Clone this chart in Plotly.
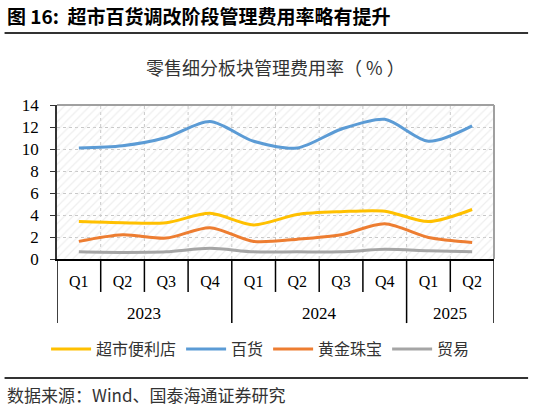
import plotly.graph_objects as go

# данные
years = ["2023"] * 4 + ["2024"] * 4 + ["2025"] * 2
quarters = ["Q1", "Q2", "Q3", "Q4", "Q1", "Q2", "Q3", "Q4", "Q1", "Q2"]

supermarket = [3.4, 3.3, 3.3, 4.15, 3.1, 4.05, 4.3, 4.35, 3.4, 4.5]
department = [10.1, 10.3, 11.05, 12.5, 10.7, 10.1, 11.8, 12.7, 10.7, 12.1]
jewelry = [1.6, 2.2, 1.9, 2.85, 1.6, 1.8, 2.2, 3.2, 1.95, 1.5]
trade = [0.66, 0.6, 0.65, 0.97, 0.65, 0.65, 0.65, 0.88, 0.75, 0.65]

y_max = 14
y_ticks = [0, 2, 4, 6, 8, 10, 12, 14]

idx = list(range(len(quarters)))

fig = go.Figure()

# фон со штриховкой
fig.add_trace(go.Bar(x=idx, y=[y_max] * len(quarters), width=1, showlegend=False, hoverinfo='skip',
                     marker=dict(color='rgba(0,0,0,0)', line=dict(width=0),
                                 pattern=dict(shape='/', fgcolor='#dedede', bgcolor='rgba(0,0,0,0)',
                                              size=6, solidity=0.2))))

series = [("超市便利店", supermarket, '#FFC000'),
          ("百货", department, '#5B9BD5'),
          ("黄金珠宝", jewelry, '#ED7D31'),
          ("贸易", trade, '#A5A5A5')]
for name, vals, color in series:
    fig.add_trace(go.Scatter(x=idx, y=vals, mode='lines', name=name,
                             line=dict(color=color, width=3, shape='spline', smoothing=0.8)))

serif = "Liberation Serif, Times New Roman, serif"
cjk = "Noto Sans CJK SC"

fig.update_layout(
    width=534, height=408,
    margin=dict(l=57, r=40, t=105, b=149),
    paper_bgcolor='white', plot_bgcolor='white',
    font=dict(family=serif, size=15, color='black'),
    showlegend=True,
    legend=dict(orientation='h', x=-0.025, xanchor='left', y=-0.585, yanchor='middle',
                font=dict(family=cjk, size=16, color='#333333'), itemwidth=40,
                traceorder='normal'),
    xaxis=dict(range=[-0.5, len(quarters) - 0.5], tickmode='array', tickvals=idx, ticktext=quarters,
               showline=True, linecolor='black', linewidth=1.5,
               ticks='', showgrid=False, zeroline=False,
               tickfont=dict(family=serif, size=16, color='black'), ticklabelstandoff=7),
    yaxis=dict(range=[0, y_max], tickvals=y_ticks, showline=True, linecolor='#333333', linewidth=1.5,
               ticks='outside', ticklen=5, tickcolor='#333333',
               showgrid=True, gridcolor='#c8c8c8', griddash='dot', gridwidth=1,
               zeroline=False, tickfont=dict(family=serif, size=17, color='black'),
               ticklabelstandoff=8),
    bargap=0,
)

# вертикальная сетка и засечки на границах кварталов
for i in range(len(quarters) + 1):
    b = i - 0.5
    new_year = i == 0 or i == len(quarters) or years[i] != years[i - 1]
    if 0 < i < len(quarters):
        fig.add_shape(type='line', xref='x', yref='paper', x0=b, x1=b, y0=0, y1=1, layer='below',
                      line=dict(color='#c8c8c8', width=1, dash='dot'))
    fig.add_shape(type='line', xref='x', yref='paper', x0=b, x1=b, y0=0,
                  y1=-0.416 if new_year else -0.214, line=dict(color='black', width=1.5))

# подписи годов
for yr in dict.fromkeys(years):
    pos = [i for i, v in enumerate(years) if v == yr]
    fig.add_annotation(text=yr, xref='x', yref='paper', x=sum(pos) / len(pos), y=-0.351,
                       showarrow=False, yanchor='middle', font=dict(family=serif, size=17, color='black'))

# рамка графика (верх и право серые)
fig.add_shape(type='line', xref='paper', yref='paper', x0=0, x1=1, y0=1, y1=1,
              line=dict(color='#a0a0a0', width=2))
fig.add_shape(type='line', xref='paper', yref='paper', x0=1, x1=1, y0=0, y1=1,
              line=dict(color='#a0a0a0', width=2))

# заголовок и подвал
fig.add_annotation(text="<b>图 16:  超市百货调改阶段管理费用率略有提升</b>", xref='paper', yref='paper',
                   x=-0.118, y=1.578, xanchor='left', yanchor='middle', showarrow=False,
                   font=dict(family=cjk, size=19, color='black'))
fig.add_shape(type='line', xref='paper', yref='paper', x0=-0.12, x1=1.078, y0=1.468, y1=1.468,
              line=dict(color='#333333', width=2))
fig.add_annotation(text="零售细分板块管理费用率（ % ）", xref='paper', yref='paper',
                   x=0.5, y=1.247, xanchor='center', yanchor='middle', showarrow=False,
                   font=dict(family=cjk, size=18, color='#333333'))
fig.add_shape(type='line', xref='paper', yref='paper', x0=-0.12, x1=1.078, y0=-0.773, y1=-0.773,
              line=dict(color='#333333', width=2))
fig.add_annotation(text="数据来源：Wind、国泰海通证券研究", xref='paper', yref='paper',
                   x=-0.118, y=-0.883, xanchor='left', yanchor='middle', showarrow=False,
                   font=dict(family=cjk, size=17, color='#333333'))

fig.write_html("out.html", config={'displayModeBar': False},
               post_script="document.body.style.margin='0';")
